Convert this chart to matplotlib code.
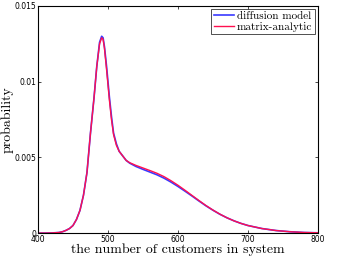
import matplotlib
matplotlib.use("Agg")
import matplotlib.pyplot as plt

x_vals = [400, 410, 420, 430, 435, 440, 445, 450, 455, 460, 465, 470, 475, 480,
          484, 488, 491, 493, 495, 498, 500, 502, 505, 508, 512, 516, 521, 526,
          531, 540, 550, 560, 570, 580, 590, 600, 610, 620, 630, 640, 650, 660,
          670, 680, 690, 700, 720, 740, 760, 780, 800]

matrix_analytic = [0.0, 0.0, 0.00001, 0.00004, 0.00009, 0.00018, 0.0003, 0.0005,
                   0.0009, 0.0015, 0.0025, 0.0040, 0.0066, 0.0089, 0.0110, 0.0125,
                   0.0129, 0.0128, 0.0122, 0.0108, 0.0098, 0.0088, 0.0075, 0.0065,
                   0.0058, 0.0054, 0.0051, 0.0048, 0.00465, 0.00447, 0.00430,
                   0.00413, 0.00395, 0.00373, 0.00346, 0.00316, 0.00283, 0.00249,
                   0.00215, 0.00182, 0.00152, 0.00125, 0.00101, 0.00081, 0.00064,
                   0.00050, 0.00030, 0.00017, 0.00009, 0.00004, 0.00002]

diffusion_model = [0.0, 0.0, 0.00001, 0.00004, 0.00009, 0.00018, 0.0003, 0.0005,
                   0.0009, 0.0015, 0.0025, 0.0040, 0.0066, 0.0089, 0.0110, 0.0126,
                   0.0130, 0.0129, 0.0123, 0.0110, 0.0100, 0.0090, 0.0077, 0.0066,
                   0.0059, 0.0054, 0.0051, 0.0048, 0.00462, 0.00440, 0.00421,
                   0.00403, 0.00385, 0.00363, 0.00337, 0.00308, 0.00277, 0.00245,
                   0.00212, 0.00180, 0.00151, 0.00124, 0.00101, 0.00081, 0.00064,
                   0.00050, 0.00030, 0.00017, 0.00009, 0.00004, 0.00002]

x_ticks = [400, 500, 600, 700, 800]
x_tick_labels = ["400", "500", "600", "700", "800"]
y_ticks = [0, 0.005, 0.01, 0.015]
y_tick_labels = ["0", "0.005", "0.01", "0.015"]

plt.rcParams['axes.unicode_minus'] = False
serif = "cmr10"

fig = plt.figure(figsize=(3.39, 2.59), dpi=100)
ax = fig.add_axes([0.112, 0.100, 0.826, 0.877])

ax.plot(x_vals, diffusion_model, color="#3a3aff", lw=1.2, label="diffusion model")
ax.plot(x_vals, matrix_analytic, color="#ff1050", lw=1.0, label="matrix-analytic")

ax.set_xlim(400, 800)
ax.set_ylim(0, 0.015)
ax.set_xticks(x_ticks)
ax.set_xticklabels(x_tick_labels)
ax.set_yticks(y_ticks)
ax.set_yticklabels(y_tick_labels)
ax.tick_params(direction="in", top=True, right=True, length=2.5, width=0.5,
               labelsize=5.5, pad=1.5)
for s in ax.spines.values():
    s.set_linewidth(0.8)

ax.set_xlabel("the number of customers in system", fontfamily=serif, fontsize=10)
ax.xaxis.set_label_coords(0.5, -0.045)
ax.set_ylabel("probability", fontfamily=serif, fontsize=10)
ax.yaxis.set_label_coords(-0.086, 0.5)

leg = ax.legend(loc="upper right", prop={"family": serif, "size": 8},
                frameon=True, fancybox=False, edgecolor="black",
                handlelength=1.8, handletextpad=0.3, borderpad=0.2,
                labelspacing=0.05, borderaxespad=0.3)
leg.get_frame().set_linewidth(0.6)

fig.savefig("out.png", dpi=100)
